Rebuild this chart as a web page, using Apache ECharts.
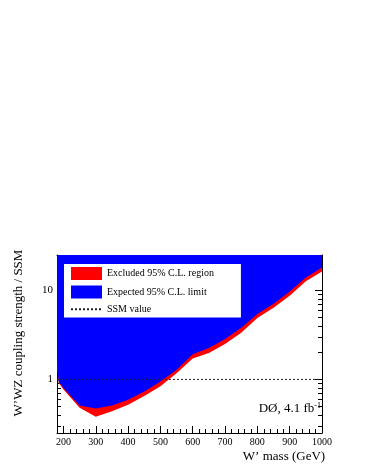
<!DOCTYPE html>
<html>
<head>
<meta charset="UTF-8">
<title>W'WZ coupling limit</title>
<style>
  html, body { margin: 0; padding: 0; background: #fff; }
  #chart { width: 366px; height: 473px; }
</style>
</head>
<body>
<div id="chart"></div>
<script src="https://cdn.jsdelivr.net/npm/echarts@6/dist/echarts.min.js"></script>
<script>
// W' mass points (GeV) and limits on coupling strength / SSM
var massGeV       = [180, 185, 200, 250, 300, 350, 400, 450, 500, 550, 600, 650, 700, 750, 800, 850, 900, 950, 1000];
var observedLimit = [1.5, 0.92, 0.77, 0.48, 0.38, 0.44, 0.52, 0.65, 0.84, 1.17, 1.72, 1.98, 2.5, 3.35, 4.9, 6.4, 8.7, 12.7, 16.3];
var expectedLimit = [1.55, 0.95, 0.80, 0.51, 0.47, 0.51, 0.59, 0.73, 0.95, 1.28, 1.92, 2.25, 2.85, 3.8, 5.45, 7.1, 9.7, 14.0, 18.1];
var ssmMass  = [180, 1000];
var ssmValue = [1, 1];

var seriesNames = ['Excluded 95% C.L. region', 'Expected 95% C.L. limit', 'SSM value'];
var serif = 'Liberation Serif';

function pairs(xs, ys) {
    var out = [];
    for (var i = 0; i < xs.length; i++) out.push([xs[i], ys[i]]);
    return out;
}

function xAxisCfg(pos, withLabels) {
    return {
        type: 'value', position: pos, min: 180, max: 1000, splitNumber: 8,
        axisLine: { show: true, onZero: false, lineStyle: { color: '#000', width: 1 } },
        axisTick: { show: true, inside: true, length: 7, lineStyle: { color: '#000' } },
        minorTick: { show: true, splitNumber: 5, length: 4, lineStyle: { color: '#000' } },
        splitLine: { show: false },
        axisLabel: { show: withLabels, fontFamily: serif, fontSize: 10, color: '#000', margin: 4,
                     showMinLabel: false, formatter: function (v) { return String(v); } },
        name: withLabels ? 'W\u2019 mass (GeV)' : '',
        nameLocation: 'middle', nameGap: 17,
        nameTextStyle: { fontFamily: serif, fontSize: 13, color: '#000', padding: [0, 0, 0, 189] }
    };
}

function yAxisCfg(pos, withLabels) {
    return {
        type: 'log', logBase: 10, position: pos, min: 0.25, max: 25,
        axisLine: { show: true, onZero: false, lineStyle: { color: '#000', width: 1 } },
        axisTick: { show: true, inside: true, length: 7, lineStyle: { color: '#000' } },
        minorTick: { show: true, splitNumber: 9, length: 4, lineStyle: { color: '#000' } },
        splitLine: { show: false },
        axisLabel: { show: withLabels, fontFamily: serif, fontSize: 11, color: '#000', margin: 4,
                     showMinLabel: false, showMaxLabel: false },
        name: withLabels ? 'W\u2019WZ coupling strength / SSM' : '',
        nameLocation: 'middle', nameGap: 32, nameRotate: 90,
        nameTextStyle: { fontFamily: serif, fontSize: 13, color: '#000', padding: [0, 0, 0, 22] }
    };
}

var chart = echarts.init(document.getElementById('chart'), null, { renderer: 'canvas' });

var option = {
    animation: false,
    backgroundColor: '#fff',
    grid: { left: 57, right: 44, top: 255, bottom: 40 },
    title: {
        text: '{a|D\u00D8, 4.1 fb}{b|-1}',
        right: 45, top: 402, padding: 0,
        textStyle: {
            fontWeight: 'normal',
            rich: {
                a: { fontFamily: serif, fontSize: 13, fontWeight: 'normal', color: '#000', verticalAlign: 'bottom' },
                b: { fontFamily: serif, fontSize: 8, fontWeight: 'normal', color: '#000', verticalAlign: 'top' }
            }
        }
    },
    legend: {
        orient: 'vertical', left: 64, top: 264,
        backgroundColor: '#fff', padding: [3, 27, 3, 6],
        itemWidth: 31, itemHeight: 13, itemGap: 5.5,
        itemStyle: { borderWidth: 0 },
        textStyle: { fontFamily: serif, fontSize: 10, color: '#000' },
        data: [
            { name: seriesNames[0], icon: 'rect' },
            { name: seriesNames[1], icon: 'rect' },
            { name: seriesNames[2], itemStyle: { color: 'rgba(0,0,0,0)', borderWidth: 0 } }
        ]
    },
    xAxis: [xAxisCfg('bottom', true), xAxisCfg('top', false)],
    yAxis: [yAxisCfg('left', true), yAxisCfg('right', false)],
    series: [
        {
            name: seriesNames[0], type: 'line', data: pairs(massGeV, observedLimit),
            symbol: 'none', z: 2, color: '#ff0000',
            lineStyle: { width: 0 },
            areaStyle: { color: '#ff0000', opacity: 1, origin: 'end' }
        },
        {
            name: seriesNames[1], type: 'line', data: pairs(massGeV, expectedLimit),
            symbol: 'none', z: 3, color: '#0000ff',
            lineStyle: { width: 0 },
            areaStyle: { color: '#0000ff', opacity: 1, origin: 'end' }
        },
        {
            name: seriesNames[2], type: 'line', data: pairs(ssmMass, ssmValue),
            symbol: 'none', z: 5, color: '#222',
            lineStyle: { color: '#222', width: 1, type: [2, 2] }
        }
    ]
};

chart.setOption(option);
</script>
</body>
</html>
